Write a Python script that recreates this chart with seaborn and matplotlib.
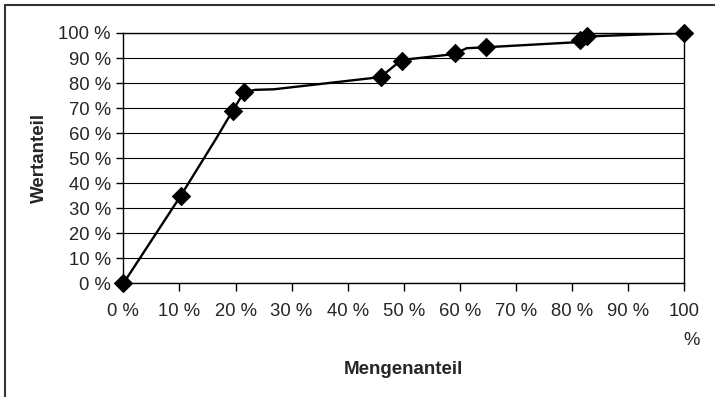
import matplotlib
matplotlib.use('Agg')
import matplotlib.pyplot as plt
import seaborn as sns
import pandas as pd
from matplotlib.lines import Line2D

# Smoothed curve (Mengenanteil %, Wertanteil %)
curve_x = [0, 10.2, 16.4, 19.5, 21.5, 23.5, 26.8, 44.0, 45.9, 49.6, 58.3, 59.2, 61.2, 64.7, 80.8, 81.4, 82.6, 100]
curve_y = [0, 34.9, 57.3, 69.0, 76.3, 77.3, 77.5, 81.9, 82.5, 89.2, 91.4, 91.8, 93.9, 94.3, 96.3, 97.0, 98.6, 100]

# Data points with diamond markers
mark_x = [0, 10.2, 19.5, 21.5, 45.9, 49.6, 59.2, 64.7, 81.4, 82.6, 100]
mark_y = [0, 34.9, 69.0, 76.3, 82.5, 88.9, 91.8, 94.3, 97.0, 98.6, 100]

ticks = list(range(0, 101, 10))
tick_labels = [f'{t} %' for t in ticks[:-1]] + ['100\n%']

curve = pd.DataFrame({'menge': curve_x, 'wert': curve_y})
marks = pd.DataFrame({'menge': mark_x, 'wert': mark_y})

sns.set_style('white')
plt.rcParams['font.family'] = ['Liberation Sans', 'DejaVu Sans']

fig = plt.figure(figsize=(7.15, 3.97), dpi=100)
ax = fig.add_axes([0.1725, 0.286, 0.7845, 0.631])

sns.lineplot(data=curve, x='menge', y='wert', sort=False, color='black', linewidth=1.7, ax=ax, zorder=3)
sns.scatterplot(data=marks, x='menge', y='wert', marker='D', s=85, color='black',
                edgecolor='black', ax=ax, zorder=4, clip_on=False)

ax.set_xlim(0, 100)
ax.set_ylim(0, 100)
ax.set_xticks(ticks)
ax.set_xticklabels(tick_labels, fontsize=13.3, multialignment='right', linespacing=1.9)
ax.set_yticks(ticks)
ax.set_yticklabels([f'{t} %' for t in ticks], fontsize=13.3)
ax.tick_params(axis='x', direction='out', length=6, width=1, color='black', pad=8, bottom=True)
ax.tick_params(axis='y', direction='out', length=5, width=1, color='black', pad=4, left=True)

ax.yaxis.grid(True, color='black', linewidth=0.8)
ax.xaxis.grid(False)
for s in ax.spines.values():
    s.set_visible(True)
    s.set_color('black')
    s.set_linewidth(1)

ax.set_xlabel('Mengenanteil', fontsize=13.5, fontweight='bold')
ax.set_ylabel('Wertanteil', fontsize=13.5, fontweight='bold')
ax.xaxis.set_label_coords(0.5, -0.31)
ax.yaxis.set_label_coords(-0.135, 0.5)

# outer chart frame (left and top edges visible)
fig.add_artist(Line2D([4.5 / 715, 4.5 / 715], [0, 1 - 4.5 / 397], transform=fig.transFigure, color='#333333', linewidth=1.5))
fig.add_artist(Line2D([4.5 / 715, 1], [1 - 4.5 / 397, 1 - 4.5 / 397], transform=fig.transFigure, color='#333333', linewidth=1.5))

fig.savefig('out.png', dpi=100)
